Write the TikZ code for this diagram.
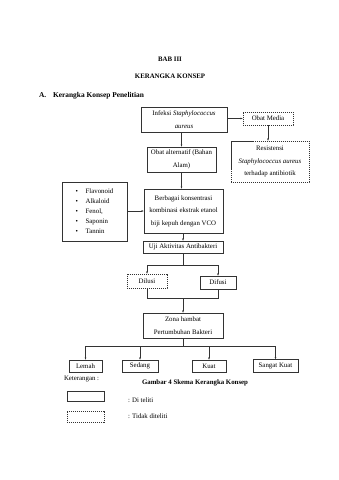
\documentclass[tikz,border=0pt]{standalone}
\usepackage{fontspec}
\setmainfont{Liberation Serif}
\usetikzlibrary{arrows.meta}

\begin{document}
\begin{tikzpicture}[x=1.755pt,y=-1.755pt,
  box/.style={draw=black!80,fill=white,line width=0.6pt,align=center,
    inner sep=0pt,font=\fontsize{12}{22}\selectfont},
  tentative/.style={box,dashed,dash pattern=on 2pt off 1.5pt},
  sz/.style 2 args={minimum width=#1*1.755pt,minimum height=#2*1.755pt},
  flow/.style={-{Latex[length=4pt,width=3pt]},draw=black!80,line width=0.5pt},
  link/.style={draw=black!80,line width=0.5pt},
  head/.style={font=\bfseries\fontsize{12}{14}\selectfont},
  every node/.style={font=\fontsize{12}{14}\selectfont}]
\useasboundingbox[fill=white] (0,0) rectangle (339,480);

\node[head] (bab) at (170,59) {BAB III};
\node[head] (judul) at (170,76) {KERANGKA KONSEP};
\node[head,anchor=west,font=\bfseries\fontsize{13}{15}\selectfont] (sub) at (37,96)
  {A.\hspace{12pt}Kerangka Konsep Penelitian};

\node[box,sz={86}{25}] (infeksi) at (184,119.5)
  {Infeksi \textit{Staphylococcus}\\\textit{aureus}};
\node[tentative,sz={50}{13}] (media) at (268,118.5) {Obat Media};
\node[tentative,sz={78}{41}] (resisten) at (270,161.5)
  {Resistensi\\\textit{Staphylococcus aureus}\\terhadap antibiotik};
\node[box,sz={69}{25}] (alternatif) at (181.5,159.5) {Obat alternatif (Bahan\\Alam)};
\node[box,sz={79}{44}] (ekstrak) at (183.5,211)
  {Berbagai konsentrasi\\kombinasi ekstrak etanol\\biji kepuh dengan VCO};
\node[box,sz={65}{59},align=left,font=\fontsize{12}{17.5}\selectfont] (senyawa) at (94.5,211.5)
  {\makebox[17.5pt][l]{\textbullet}Flavonoid\\
   \makebox[17.5pt][l]{\textbullet}Alkaloid\\
   \makebox[17.5pt][l]{\textbullet}Fenol,\\
   \makebox[17.5pt][l]{\textbullet}Saponin\\
   \makebox[17.5pt][l]{\textbullet}Tannin};
\node[box,sz={80}{12}] (uji) at (183,247) {Uji Aktivitas Antibakteri};
\node[tentative,sz={40}{14}] (dilusi) at (147,281) {Dilusi};
\node[box,sz={36}{13}] (difusi) at (218,282.5) {Difusi};
\node[box,sz={80}{25}] (zona) at (183,325.5) {Zona hambat\\Pertumbuhan Bakteri};

\node[box,sz={33}{12}] (lemah) at (85.5,366) {Lemah};
\node[box,sz={36}{12}] (sedang) at (140,366) {Sedang};
\node[box,sz={34}{12}] (kuat) at (209,366) {Kuat};
\node[box,sz={45}{13}] (sangat) at (275.5,366) {Sangat Kuat};

% legend
\node[anchor=west] (ket) at (62,379) {Keterangan :};
\node[head,anchor=west] (gambar) at (140,383) {Gambar 4 Skema Kerangka Konsep};
\node[box,sz={37}{10}] (lteliti) at (85.5,396) {};
\node[tentative,sz={37}{11}] (ltidak) at (85.5,416.5) {};
\node[anchor=west] (teliti) at (126,400) {: Di teliti};
\node[anchor=west] (tidak) at (126,416) {: Tidak diteliti};

\coordinate (cabang) at (183,265);
\coordinate (gabung) at (183,298);
\coordinate (sebar) at (183,346);

\draw[flow] (infeksi.east |- media) -- (media.west);
\draw[flow] (media.south) -- (media.south |- resisten.north);
\draw[flow] (alternatif.north |- infeksi.south) -- (alternatif.north);
\draw[flow] (alternatif.south) -- (alternatif.south |- ekstrak.north);
\draw[flow] (senyawa.east |- ekstrak) -- (ekstrak.west);
\draw[flow] (uji.north |- ekstrak.south) -- (uji.north);
\draw[flow] (uji.south) -- (cabang) -| (dilusi.north);
\draw[flow] (cabang) -| (difusi.north);
\draw[link] (dilusi.south) |- (gabung);
\draw[link] (difusi.south) |- (gabung);
\draw[flow] (gabung) -- (zona.north);
\draw[link] (zona.south) -- (sebar);
\foreach \k in {lemah,sedang,kuat,sangat}
  \draw[flow] (sebar) -| (\k.north);
\end{tikzpicture}
\end{document}
